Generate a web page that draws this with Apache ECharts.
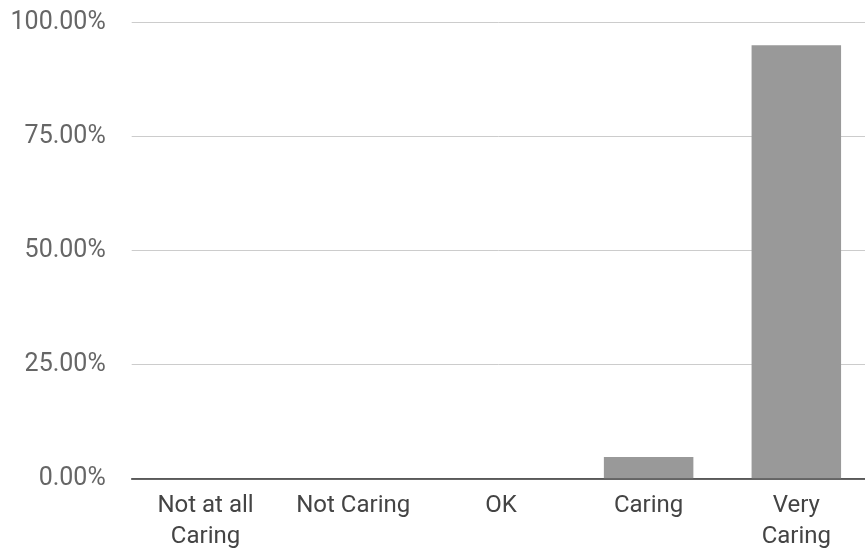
<!DOCTYPE html>
<html><head><meta charset="utf-8">
<script src="https://cdn.jsdelivr.net/npm/echarts@6/dist/echarts.min.js"></script>
<style>html,body{margin:0;padding:0;background:#fff}#c{width:865px;height:553px}</style>
</head><body><div id="c"></div>
<script>
const categories = ["Not at all Caring", "Not Caring", "OK", "Caring", "Very Caring"];
const tickLabels = ["Not at all\nCaring", "Not Caring", "OK", "Caring", "Very\nCaring"];
const values = [0, 0, 0, 4.7, 95.0];
const yTicks = [0, 25, 50, 75, 100];

const positions = categories.map((c, i) => i);
const chart = echarts.init(document.getElementById('c'));
chart.setOption({
  animation: false,
  grid: {left: 131.7, right: 0, top: 22.5, bottom: 74.7, containLabel: false},
  xAxis: {
    type: 'value', min: -0.5, max: 4.465,
    splitLine: {show: false},
    axisLine: {onZero: false, lineStyle: {color: '#333', width: 1.5}},
    axisTick: {show: false},
    axisLabel: {
      customValues: positions, showMinLabel: true, showMaxLabel: true, hideOverlap: false,
      margin: 12, color: '#444', fontFamily: 'Roboto', fontSize: 24, lineHeight: 31,
      formatter: v => tickLabels[Math.round(v)]
    }
  },
  yAxis: {
    type: 'value', min: yTicks[0], max: yTicks[yTicks.length - 1], interval: 25,
    axisLine: {show: false}, axisTick: {show: false},
    splitLine: {lineStyle: {color: '#ccc', width: 1}},
    axisLabel: {margin: 26, color: '#666', fontFamily: 'Roboto', fontSize: 25,
      formatter: v => v.toFixed(2) + '%'}
  },
  series: [{
    type: 'bar', data: values.map((v, i) => [positions[i], v]), barWidth: 89.5,
    itemStyle: {color: '#999999'}
  }]
});
</script></body></html>
